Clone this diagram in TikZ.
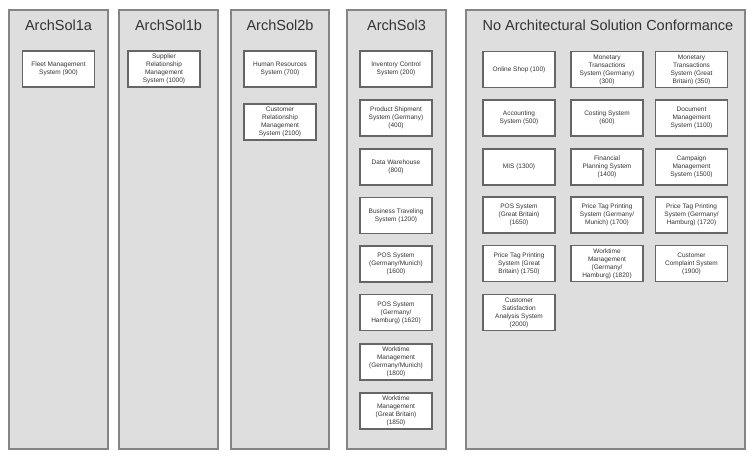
\documentclass[tikz,border=0pt]{standalone}
\usepackage{fontspec}
\setmainfont{Liberation Sans}
\definecolor{panelfill}{HTML}{DEDEDE}
\definecolor{panelline}{HTML}{858585}
\definecolor{boxline}{HTML}{666666}
\definecolor{txt}{HTML}{333333}
\begin{document}
\begin{tikzpicture}[x=1pt,y=-1pt,
  panel/.style={draw=panelline,fill=panelfill,line width=1.3pt},
  paneltitle/.style={font=\fontsize{14.5}{16}\selectfont,text=txt,anchor=center},
  sysbox/.style={draw=boxline,fill=white,line width=1.3pt,minimum width=72pt,minimum height=36pt,
     align=center,inner sep=1pt,font=\fontsize{6.5}{8}\selectfont,text=txt}]
\useasboundingbox (0,0) rectangle (751,463);
% panels
\node[panel,minimum width=99pt,minimum height=439pt,inner sep=0pt] (pA) at (58.5,229.5) {};
\node[panel,minimum width=99pt,minimum height=439pt,inner sep=0pt] (pB) at (168.5,229.5) {};
\node[panel,minimum width=98pt,minimum height=439pt,inner sep=0pt] (pC) at (280,229.5) {};
\node[panel,minimum width=99pt,minimum height=439pt,inner sep=0pt] (pD) at (396.5,229.5) {};
\node[panel,minimum width=279pt,minimum height=439pt,inner sep=0pt] (pE) at (605.5,229.5) {};
% titles
\node[paneltitle] (tA) at (58.5,25) {ArchSol1a};
\node[paneltitle] (tB) at (168.5,25) {ArchSol1b};
\node[paneltitle] (tC) at (280,25) {ArchSol2b};
\node[paneltitle] (tD) at (396.5,25) {ArchSol3};
\node[paneltitle] (tE) at (608,25) {No Architectural Solution Conformance};
% ArchSol1a
\node[sysbox] (fleet) at (58.5,69) {Fleet Management\\System (900)};
% ArchSol1b
\node[sysbox] (srm) at (164,69) {Supplier\\Relationship\\Management\\System (1000)};
% ArchSol2b
\node[sysbox] (hr) at (280,69) {Human Resources\\System (700)};
\node[sysbox] (crm) at (280,122) {Customer\\Relationship\\Management\\System (2100)};
% ArchSol3
\node[sysbox] (inv) at (396,69) {Inventory Control\\System (200)};
\node[sysbox] (ship) at (396,118) {Product Shipment\\System (Germany)\\(400)};
\node[sysbox] (dw) at (396,167) {Data Warehouse\\(800)};
\node[sysbox] (bt) at (396,215.5) {Business Traveling\\System (1200)};
\node[sysbox] (posm) at (396,264) {POS System\\(Germany/Munich)\\(1600)};
\node[sysbox] (posh) at (396,312.5) {POS System\\(Germany/\\Hamburg) (1620)};
\node[sysbox] (wtm) at (396,362) {Worktime\\Management\\(Germany/Munich)\\(1800)};
\node[sysbox] (wtgb) at (396,411) {Worktime\\Management\\(Great Britain)\\(1850)};
% No conformance
\node[sysbox] (shop) at (519,69.5) {Online Shop (100)};
\node[sysbox] (mtg) at (607,69.5) {Monetary\\Transactions\\System (Germany)\\(300)};
\node[sysbox] (mtgb) at (691.5,69.5) {Monetary\\Transactions\\System (Great\\Britain) (350)};
\node[sysbox] (acc) at (519,118) {Accounting\\System (500)};
\node[sysbox] (cost) at (607,118) {Costing System\\(600)};
\node[sysbox] (doc) at (691.5,118) {Document\\Management\\System (1100)};
\node[sysbox] (mis) at (519,167) {MIS (1300)};
\node[sysbox] (fin) at (607,167) {Financial\\Planning System\\(1400)};
\node[sysbox] (camp) at (691.5,167) {Campaign\\Management\\System (1500)};
\node[sysbox] (posgb) at (519,215) {POS System\\(Great Britain)\\(1650)};
\node[sysbox] (ptm) at (607,215) {Price Tag Printing\\System (Germany/\\Munich) (1700)};
\node[sysbox] (pth) at (691.5,215) {Price Tag Printing\\System (Germany/\\Hamburg) (1720)};
\node[sysbox] (ptgb) at (519,263.5) {Price Tag Printing\\System (Great\\Britain) (1750)};
\node[sysbox] (wth) at (607,263.5) {Worktime\\Management\\(Germany/\\Hamburg) (1820)};
\node[sysbox] (ccs) at (691.5,263.5) {Customer\\Complaint System\\(1900)};
\node[sysbox] (csa) at (519,312.5) {Customer\\Satisfaction\\Analysis System\\(2000)};
\end{tikzpicture}
\end{document}
